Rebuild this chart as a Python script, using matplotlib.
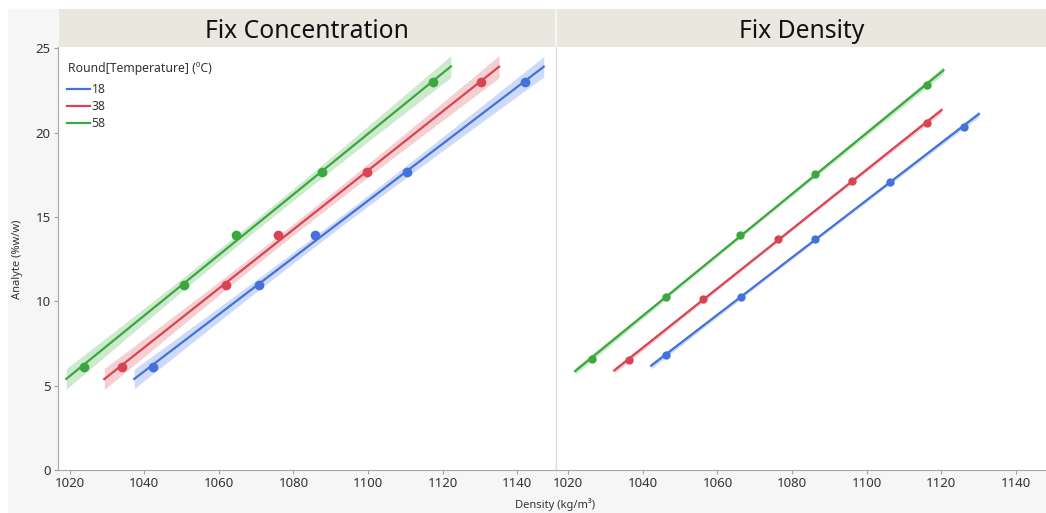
import numpy as np
import matplotlib
matplotlib.use("Agg")
import matplotlib.pyplot as plt
from matplotlib.patches import Rectangle

plt.rcParams['font.family'] = ['Noto Sans', 'DejaVu Sans']

# legend groups: Round[Temperature]
temps = ["18", "38", "58"]
colors = ["#4372dc", "#d94452", "#3aa83c"]

# Fix Concentration: same analyte levels, density shifts with temperature
conc_y = [6.12, 10.97, 13.91, 17.65, 22.98]
conc_x_18 = [1042.3, 1070.8, 1085.8, 1110.4, 1142.1]
conc_x_38 = [1034.1, 1061.8, 1075.9, 1099.8, 1130.3]
conc_x_58 = [1023.8, 1050.6, 1064.5, 1087.6, 1117.5]

# Fix Density: same density steps, analyte read at each temperature
dens_x_18 = [1046.2, 1066.2, 1086.2, 1106.2, 1126.1]
dens_y_18 = [6.80, 10.27, 13.71, 17.09, 20.35]
dens_x_38 = [1036.3, 1056.2, 1076.2, 1096.2, 1116.1]
dens_y_38 = [6.54, 10.12, 13.69, 17.15, 20.57]
dens_x_58 = [1026.3, 1046.2, 1066.1, 1086.2, 1116.1]
dens_y_58 = [6.60, 10.27, 13.92, 17.55, 22.80]

x_ticks = [1020, 1040, 1060, 1080, 1100, 1120, 1140]
y_ticks = [0, 5, 10, 15, 20, 25]

T_975_DF3 = 3.182  # t quantile for n=5 points


def fit_line(x, y):
    x = np.asarray(x, dtype=float)
    y = np.asarray(y, dtype=float)
    b, a = np.polyfit(x, y, 1)
    pad = 0.05 * (x.max() - x.min())
    xs = np.linspace(x.min() - pad, x.max() + pad, 100)
    yhat = a + b * xs
    res = y - (a + b * x)
    s = np.sqrt(np.sum(res ** 2) / (len(x) - 2))
    sxx = np.sum((x - x.mean()) ** 2)
    hw = T_975_DF3 * s * np.sqrt(1 / len(x) + (xs - x.mean()) ** 2 / sxx)
    return xs, yhat, hw


W, H = 1046, 513
fig = plt.figure(figsize=(W / 100, H / 100), dpi=100, facecolor="white")
fig.patches.append(Rectangle((8 / W, 0), 1 - 8 / W, (H - 9) / H,
                             transform=fig.transFigure, color="#f6f6f6", zorder=-10))

bot = (H - 470) / H
hgt = (470 - 47) / H
ax1 = fig.add_axes([57.7 / W, bot, (555 - 57.7) / W, hgt])
ax2 = fig.add_axes([556 / W, bot, (W - 556) / W, hgt])

panels = [
    (ax1, [conc_x_18, conc_x_38, conc_x_58], [conc_y, conc_y, conc_y], (1016.8, 1150.1), 7),
    (ax2, [dens_x_18, dens_x_38, dens_x_58], [dens_y_18, dens_y_38, dens_y_58], (1016.7, 1148.1), 6),
]

handles = []
for ax, xs_all, ys_all, xl, ms in panels:
    ax.set_facecolor("white")
    for x, y, c, t in zip(xs_all, ys_all, colors, temps):
        xs, yhat, hw = fit_line(x, y)
        ax.fill_between(xs, yhat - hw, yhat + hw, color=c, alpha=0.25, lw=0, zorder=1)
        ln, = ax.plot(xs, yhat, color=c, lw=1.6, label=t, zorder=2)
        ax.plot(x, y, "o", color=c, ms=ms, mec="none", zorder=3)
        if ax is ax1:
            handles.append(ln)
    ax.set_xlim(xl)
    ax.set_ylim(0, 25.07)
    ax.set_xticks(x_ticks)
    ax.set_yticks(y_ticks)
    ax.tick_params(direction="out", length=3, color="#a0a0a0", labelcolor="#333333",
                   labelsize=9.5, pad=2)
    for side in ["top", "right"]:
        ax.spines[side].set_visible(False)
    ax.spines["bottom"].set_color("#a6a6a6")
    ax.spines["left"].set_color("#a6a6a6")

ax2.spines["left"].set_color("#dedede")
ax2.tick_params(axis="y", left=False, labelleft=False)

# legend title drawn as text, entries as a legend below it
ax1.text(0.0207, (470 - 68.3) / 423, "Round[Temperature] (ºC)", ha="left", va="center",
         fontsize=8.8, color="#333333", transform=ax1.transAxes)
leg = ax1.legend(handles=handles, loc="upper left",
                 bbox_to_anchor=(0.019, (470 - 83) / 423), frameon=False, fontsize=8.8,
                 handlelength=1.85, handletextpad=0.15,
                 labelspacing=0.32, borderpad=0, borderaxespad=0)
for txt in leg.get_texts():
    txt.set_color("#333333")

# header strips
for x0, x1, title in [(59, 555, "Fix Concentration"), (557, W, "Fix Density")]:
    axh = fig.add_axes([x0 / W, (H - 47) / H, (x1 - x0) / W, 38 / H])
    axh.set_facecolor("#e9e7de")
    axh.set_xticks([])
    axh.set_yticks([])
    for s in axh.spines.values():
        s.set_visible(False)
    axh.text(0.5, 0.42, title, ha="center", va="center", fontsize=17.8,
             color="#111111", transform=axh.transAxes)

fig.text(555 / W, 1 - 505 / H, "Density (kg/m³)", ha="center", va="center",
         fontsize=8, color="#333333")
fig.text(18 / W, 1 - 259 / H, "Analyte (%w/w)", ha="center", va="center",
         rotation=90, fontsize=8, color="#333333")

fig.savefig("out.png", dpi=100)
